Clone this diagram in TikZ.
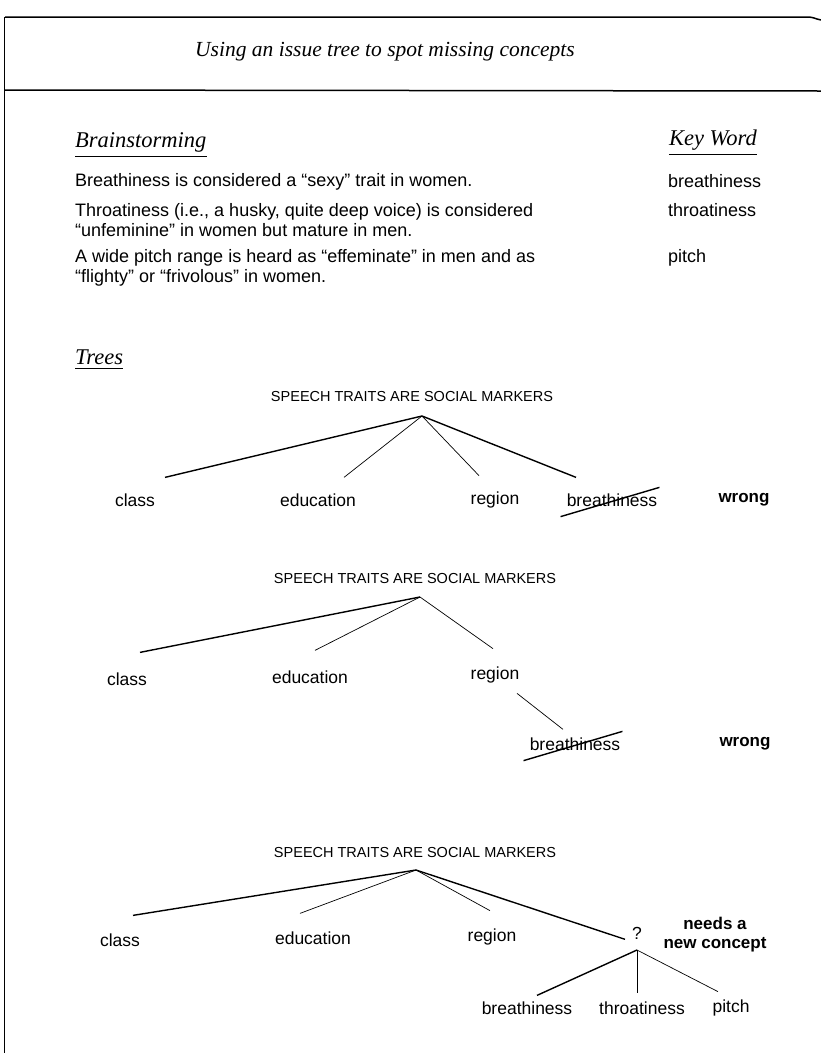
\documentclass[tikz,border=0pt]{standalone}
\usepackage{fontspec}
\setmainfont{Liberation Sans}
\newfontfamily\headfont{Liberation Serif}

\begin{document}
\begin{tikzpicture}[x=1pt,y=-1pt]
        \tikzstyle{every node}=[inner sep=0pt, font=\fontsize{18}{20}\selectfont]
        \tikzstyle{head}=[font=\headfont\itshape\fontsize{22.5}{24}\selectfont]
        \tikzstyle{body}=[anchor=west, align=left]
        \tikzstyle{leaf}=[font=\fontsize{17.5}{20}\selectfont]
        \tikzstyle{note}=[font=\bfseries\fontsize{17}{19}\selectfont, align=center]
        \tikzstyle{root}=[font=\fontsize{14.5}{16}\selectfont]
        \tikzstyle{heavy}=[line width=1.4pt]
        \tikzstyle{light}=[line width=0.7pt]
        \useasboundingbox (0,0) rectangle (821,1053);
        % frame
        \draw[line width=1.5pt] (5,17) -- (808,17) to[out=0,in=170] (821,20);
        \draw[line width=1.5pt] (5,90) -- (821,91);
        \draw[line width=0.6pt] (4,17) -- (4,1053);
        \node[head, anchor=west, font=\headfont\itshape\fontsize{21.5}{24}\selectfont] (title) at (195,52) {Using an issue tree to spot missing concepts};
        % brainstorming
        \node[head, anchor=west] (brain) at (75,142) {Brainstorming};
        \node[head, anchor=east] (key) at (757,140) {Key Word};
        \draw[line width=1pt] (brain.south west) ++(0,4) coordinate (bu) -- (bu -| brain.south east);
        \draw[line width=1pt] (key.south west) ++(0,4) coordinate (ku) -- (ku -| key.south east);
        \node[body] (s1) at (75,182) {Breathiness is considered a ``sexy'' trait in women.};
        \node[body] (s2) at (75,220) {Throatiness (i.e., a husky, quite deep voice) is considered\\``unfeminine'' in women but mature in men.};
        \node[body] (s3) at (75,268) {A wide pitch range is heard as ``effeminate'' in men and as\\``flighty'' or ``frivolous'' in women.};
        \node[body] (k1) at (668,181) {breathiness};
        \node[body] (k2) at (668,210) {throatiness};
        \node[body] (k3) at (668,258) {pitch};
        % trees
        \node[head, anchor=west] (trees) at (75,357) {Trees};
        \draw[line width=1pt] (trees.south west) ++(0,4) coordinate (tu) -- (tu -| trees.south east);

        % tree 1
        \node[root] (root1) at (412,397) {SPEECH TRAITS ARE SOCIAL MARKERS};
        \coordinate (apex1) at (422,416);
        \node[leaf] (class1) at (135,500) {class};
        \node[leaf] (edu1) at (318,500) {education};
        \node[leaf] (reg1) at (495,500) {region};
        \node[leaf] (br1) at (612,500) {breathiness};
        \node[note] (wrong1) at (744,500) {wrong};
        \draw[heavy] (apex1) -- ([shift={(30,-16)}]class1.north);
        \draw[light] (apex1) -- ([shift={(26,-16)}]edu1.north);
        \draw[light] (apex1) -- ([shift={(-16,-16)}]reg1.north);
        \draw[heavy] (apex1) -- ([shift={(-36,-16)}]br1.north);
        \draw[heavy] ([shift={(-6,10)}]br1.south west) -- ([shift={(2,-6)}]br1.north east);

        % tree 2
        \node[root] (root2) at (415,578) {SPEECH TRAITS ARE SOCIAL MARKERS};
        \coordinate (apex2) at (420,597);
        \node[leaf] (class2) at (127,679) {class};
        \node[leaf] (edu2) at (310,677) {education};
        \node[leaf] (reg2) at (495,675) {region};
        \node[leaf] (br2) at (575,744) {breathiness};
        \node[note] (wrong2) at (745,744) {wrong};
        \draw[heavy] (apex2) -- ([shift={(13,-20)}]class2.north);
        \draw[light] (apex2) -- ([shift={(5,-20)}]edu2.north);
        \draw[light] (apex2) -- ([shift={(-2,-18)}]reg2.north);
        \draw[light] ([shift={(22,10)}]reg2.south) -- ([shift={(-12,-8)}]br2.north);
        \draw[heavy] ([shift={(-6,10)}]br2.south west) -- ([shift={(2,-6)}]br2.north east);

        % tree 3
        \node[root] (root3) at (415,852) {SPEECH TRAITS ARE SOCIAL MARKERS};
        \coordinate (apex3) at (416,870);
        \node[leaf] (class3) at (120,940) {class};
        \node[leaf] (edu3) at (313,938) {education};
        \node[leaf] (reg3) at (492,937) {region};
        \node[leaf] (q3) at (637,933) {?};
        \node[note] (new3) at (715,935) {needs a\\new concept};
        \coordinate (qapex3) at (637,950);
        \node[leaf] (br3) at (527,1008) {breathiness};
        \node[leaf] (thr3) at (642,1008) {throatiness};
        \node[leaf] (pitch3) at (731,1008) {pitch};
        \draw[heavy] (apex3) -- ([shift={(13,-18)}]class3.north);
        \draw[light] (apex3) -- ([shift={(-13,-18)}]edu3.north);
        \draw[light] (apex3) -- ([shift={(-2,-18)}]reg3.north);
        \draw[heavy] (apex3) -- ([shift={(-12,0)}]q3.south);
        \draw[heavy] (qapex3) -- ([shift={(10,-6)}]br3.north);
        \draw[light] (qapex3) -- ([shift={(-5,-8)}]thr3.north);
        \draw[light] (qapex3) -- ([shift={(-13,-8)}]pitch3.north);
\end{tikzpicture}
\end{document}
